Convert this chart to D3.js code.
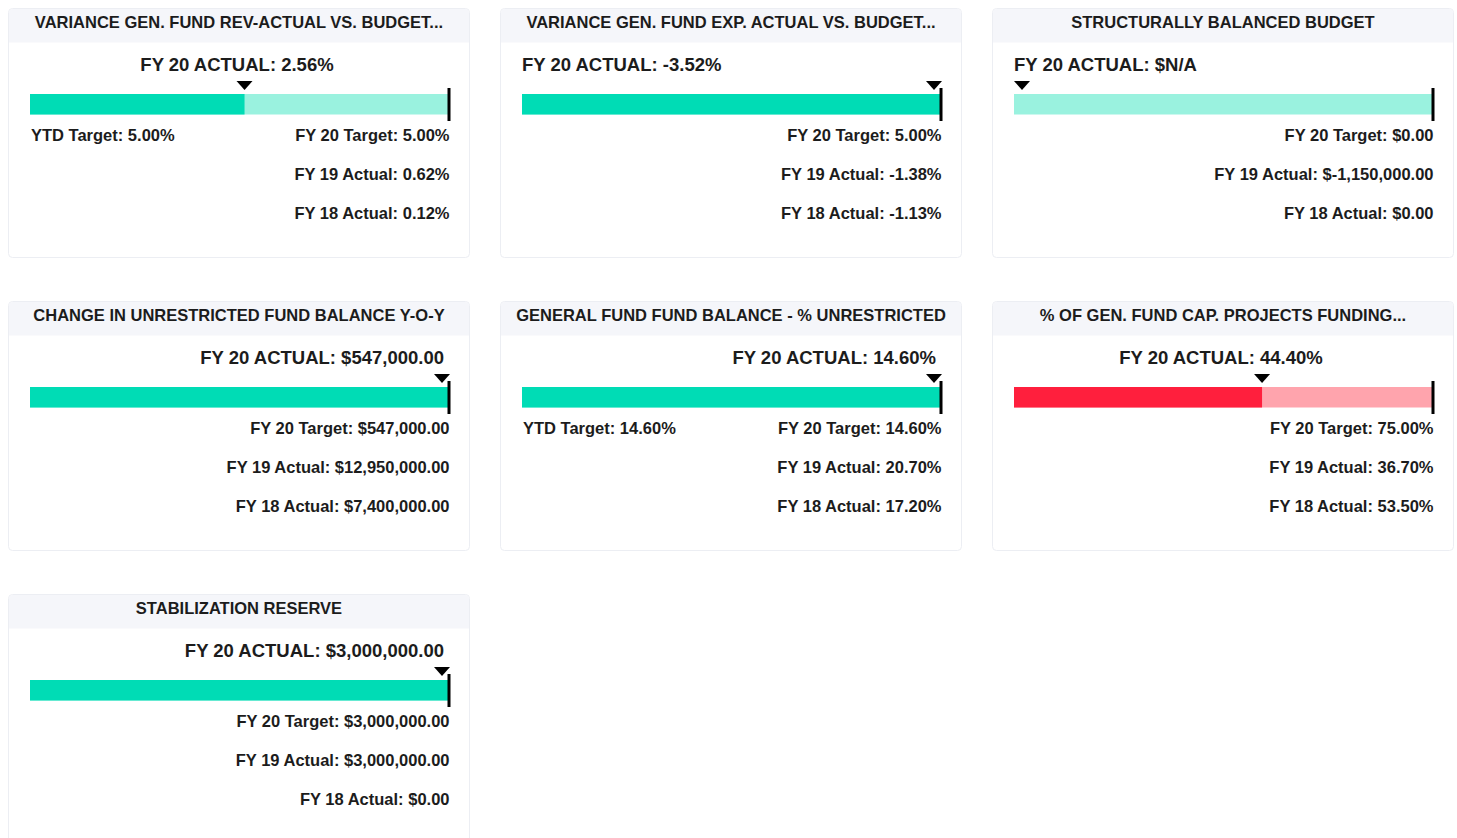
<!DOCTYPE html>
<html>
<head>
<meta charset="utf-8">
<script src="https://cdn.jsdelivr.net/npm/d3@7"></script>
<style>
  html, body { margin: 0; padding: 0; background: #fff; }
  svg { display: block; font-family: "Liberation Sans", Arial, Helvetica, sans-serif; }
</style>
</head>
<body>
<div id="chart"></div>
<script>
// KPI cards, one entry per card
const titles = [
  "VARIANCE GEN. FUND REV-ACTUAL VS. BUDGET...",
  "VARIANCE GEN. FUND EXP. ACTUAL VS. BUDGET...",
  "STRUCTURALLY BALANCED BUDGET",
  "CHANGE IN UNRESTRICTED FUND BALANCE Y-O-Y",
  "GENERAL FUND FUND BALANCE - % UNRESTRICTED",
  "% OF GEN. FUND CAP. PROJECTS FUNDING...",
  "STABILIZATION RESERVE"
];
const units = ["%", "%", "$", "$", "%", "%", "$"];
const fy20Actual = [2.56, -3.52, null, 547000, 14.60, 44.40, 3000000];
const fy20Target = [5.00, 5.00, 0, 547000, 14.60, 75.00, 3000000];
const ytdTarget = [5.00, null, null, null, 14.60, null, null];
const fy19Actual = [0.62, -1.38, -1150000, 12950000, 20.70, 36.70, 3000000];
const fy18Actual = [0.12, -1.13, 0, 7400000, 17.20, 53.50, 0];
const lowerIsBetter = [false, true, false, false, false, false, false];
const onTrack = [true, true, true, true, true, false, true];

const width = 1457, height = 838;
const cardW = 462, cardH = 250, colStep = 492, rowStep = 293;
const headerH = 34.5;
const bar = { x0: 22, x1: 441, y: 86, h: 20.5 };
const colors = {
  good: { fill: "#00dcb5", bg: "#9af2df" },
  bad: { fill: "#ff1f3d", bg: "#ffa4ad" }
};
const textColor = "#1c1c1c";

const locale = d3.formatLocale({ decimal: ".", thousands: ",", grouping: [3], currency: ["$", ""], minus: "-" });
const num = locale.format(",.2f");
function fmt(v, unit) {
  if (v == null) return unit === "$" ? "$N/A" : "N/A";
  return unit === "$" ? "$" + num(v) : num(v) + "%";
}

const svg = d3.select("#chart").append("svg").attr("width", width).attr("height", height);

titles.forEach((title, i) => {
  const col = i % 3, row = Math.floor(i / 3);
  const g = svg.append("g").attr("transform", `translate(${8 + col * colStep},${8 + row * rowStep})`);

  // card frame + header band
  g.append("rect").attr("x", 0.5).attr("y", 0.5).attr("width", cardW - 1).attr("height", cardH - 1)
    .attr("rx", 4).attr("fill", "#fff").attr("stroke", "#eceef3");
  g.append("path")
    .attr("d", `M1,${headerH} V5 Q1,1 5,1 H${cardW - 5} Q${cardW - 1},1 ${cardW - 1},5 V${headerH} Z`)
    .attr("fill", "#f5f6fa");
  g.append("text").attr("x", cardW / 2).attr("y", 20).attr("text-anchor", "middle")
    .attr("font-size", 16.5).attr("font-weight", "bold").attr("fill", textColor).text(title);

  const unit = units[i];
  const actual = fy20Actual[i];
  const target = fy20Target[i];
  const x = d3.scaleLinear().domain([0, target || 1]).range([bar.x0, bar.x1]).clamp(true);
  const pal = onTrack[i] ? colors.good : colors.bad;

  let fillVal = actual == null ? 0 : actual;
  if (lowerIsBetter[i] && actual != null && actual <= target) fillVal = target;
  const fillX = x(fillVal);

  // background (remaining) bar and achieved bar
  g.append("rect").attr("x", x(0)).attr("y", bar.y).attr("width", x(target || 1) - x(0)).attr("height", bar.h)
    .attr("fill", pal.bg);
  g.append("rect").attr("x", x(0)).attr("y", bar.y).attr("width", Math.max(0, fillX - x(0))).attr("height", bar.h)
    .attr("fill", pal.fill);

  // target line
  g.append("rect").attr("x", x(target || 1) - 1.5).attr("y", 80).attr("width", 3).attr("height", 33)
    .attr("fill", "#000");

  // actual marker
  const mx = Math.min(Math.max(fillX, bar.x0 + 8), bar.x1 - 7);
  g.append("path").attr("d", `M${mx - 8},73 L${mx + 8},73 L${mx},82 Z`).attr("fill", "#000");

  // actual label
  const ratio = actual == null ? 0 : actual / target;
  let lx = cardW / 2 - 2, anchor = "middle";
  if (ratio <= 0) { lx = bar.x0; anchor = "start"; }
  else if (ratio >= 1) { lx = bar.x1 - 5; anchor = "end"; }
  g.append("text").attr("x", lx).attr("y", 63).attr("text-anchor", anchor)
    .attr("font-size", 18.5).attr("font-weight", "bold").attr("fill", textColor)
    .text("FY 20 ACTUAL: " + fmt(actual, unit));

  // detail lines
  const lines = [
    "FY 20 Target: " + fmt(target, unit),
    "FY 19 Actual: " + fmt(fy19Actual[i], unit),
    "FY 18 Actual: " + fmt(fy18Actual[i], unit)
  ];
  g.selectAll("text.detail").data(lines).join("text").attr("class", "detail")
    .attr("x", bar.x1 + 0.5).attr("y", (d, k) => 133 + k * 39).attr("text-anchor", "end")
    .attr("font-size", 16.5).attr("font-weight", "bold").attr("fill", textColor).text(d => d);

  if (ytdTarget[i] != null) {
    g.append("text").attr("x", bar.x0 + 1).attr("y", 133)
      .attr("font-size", 16.5).attr("font-weight", "bold").attr("fill", textColor)
      .text("YTD Target: " + fmt(ytdTarget[i], unit));
  }
});
</script>
</body>
</html>
